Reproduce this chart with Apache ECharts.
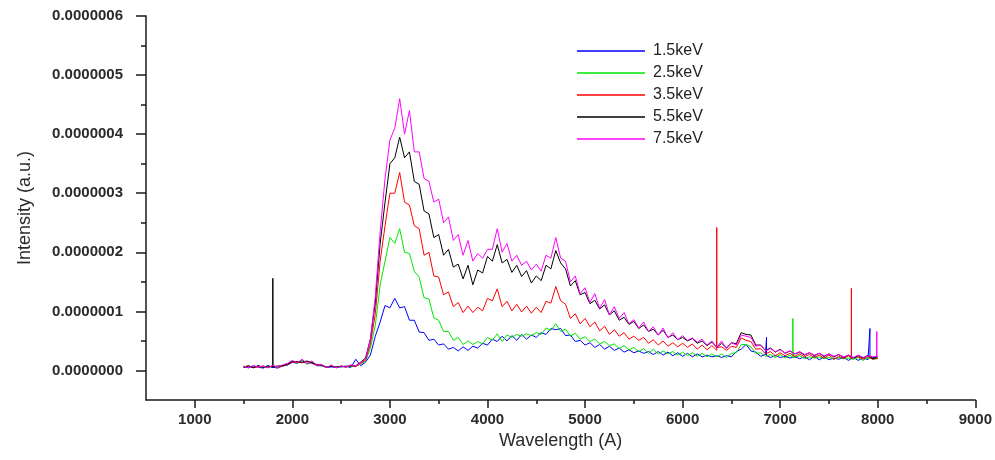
<!DOCTYPE html>
<html><head><meta charset="utf-8">
<script src="https://cdn.jsdelivr.net/npm/echarts@6/dist/echarts.min.js"></script>
<style>html,body{margin:0;padding:0;background:#fff}#c{width:995px;height:460px}</style>
</head><body><div id="c"></div><script>
// Wavelength grid (Å)
const wavelength = [
 1500,1550,1600,1650,1700,1750,1800,1850,1900,1950,
 2000,2050,2100,2150,2200,2250,2300,2350,2400,2450,
 2500,2550,2600,2650,2700,2750,2800,2850,2900,2950,
 3000,3050,3100,3150,3200,3250,3300,3350,3400,3450,
 3500,3550,3600,3650,3700,3750,3800,3850,3900,3950,
 4000,4050,4100,4150,4200,4250,4300,4350,4400,4450,
 4500,4550,4600,4650,4700,4750,4800,4850,4900,4950,
 5000,5050,5100,5150,5200,5250,5300,5350,5400,5450,
 5500,5550,5600,5650,5700,5750,5800,5850,5900,5950,
 6000,6050,6100,6150,6200,6250,6300,6350,6400,6450,
 6500,6550,6600,6650,6700,6750,6800,6850,6900,6950,
 7000,7050,7100,7150,7200,7250,7300,7350,7400,7450,
 7500,7550,7600,7650,7700,7750,7800,7850,7900,7950,
 8000
];
// Intensities in units of 1e-8 a.u.
const kev15 = [
 0.6,0.45,0.75,0.55,0.4,0.75,0.55,0.4,0.75,0.9,
 1.4,1.2,1.7,1.1,1.4,0.8,0.8,0.5,0.6,0.5,
 0.6,0.7,0.5,1.9,0.8,1.4,2.6,5.8,8.2,11,
 10.6,12.2,10.6,10.8,8.5,8.5,6.5,6.4,5.1,5.3,
 4.3,4.5,3.6,3.9,3.3,4.0,3.4,4.1,3.8,4.6,
 4.3,5.3,4.9,5.8,5.0,5.9,5.1,6.1,5.3,6.0,
 5.6,6.4,6.1,7.1,6.9,7.1,5.9,6.0,4.9,5.1,
 4.3,4.7,3.9,4.4,3.6,4.1,3.4,3.8,3.1,3.5,
 3.0,3.3,2.9,3.2,2.7,3.2,2.6,3.1,2.5,3.0,
 2.4,2.9,2.3,2.8,2.3,2.6,2.3,2.5,2.2,2.5,
 2.3,3.2,3.6,4.4,3.3,3.1,2.4,2.7,2.2,2.5,
 2.2,2.4,2.1,2.3,2.0,2.3,1.8,2.4,1.8,2.3,
 1.8,2.1,1.9,2.2,1.7,2.2,1.7,2.2,1.8,2.2,
 2.0
];
const kev25 = [
 0.55,0.75,0.45,0.75,0.55,0.45,0.75,0.5,0.85,1.0,
 1.6,1.2,1.8,1.1,1.5,0.9,0.8,0.5,0.8,0.45,
 0.65,0.6,0.7,0.7,1.1,1.5,3.8,7.6,14.5,18.5,
 22.5,21.5,24,20,19.8,16.8,15.8,12.3,12.1,8.9,
 8.5,6.6,6.6,5.1,5.6,4.4,5.0,4.4,4.9,4.5,
 5.6,5.1,6.2,4.9,6.0,5.6,6.1,5.8,6.2,5.9,
 6.4,6.1,7.2,6.8,7.9,6.6,7.0,5.8,6.3,5.3,
 5.7,4.9,5.3,4.5,4.9,4.2,4.5,3.7,4.2,3.5,
 3.9,3.2,3.7,2.9,3.6,2.8,3.3,2.8,3.2,2.6,
 3.1,2.5,3.0,2.4,2.9,2.3,2.8,2.3,2.8,2.2,
 2.9,3.0,4.4,4.4,4.0,2.9,3.0,2.4,2.7,2.2,
 2.7,2.1,2.6,2.0,2.5,2.0,2.3,2.1,2.3,2.0,
 2.2,1.9,2.2,2.0,2.1,1.9,2.2,1.7,2.2,1.9,
 2.0
];
const kev35 = [
 0.55,0.75,0.5,0.6,0.75,0.5,0.85,0.55,0.75,1.0,
 1.4,1.4,1.3,1.5,1.2,0.9,0.9,0.5,0.8,0.5,
 0.75,0.55,0.85,0.65,1.2,1.7,4.5,9.6,18.5,24.5,
 30,30,33.5,28.5,28,24.5,24,19.5,20,16,
 15.8,12.8,13.3,10.8,11.5,9.8,10.9,9.8,10.7,10.1,
 12.2,11.8,13.8,10.8,11.7,10.1,11.2,9.9,10.9,9.7,
 10.7,9.8,11.7,11.4,14.2,11.8,11.2,8.8,9.6,7.9,
 8.8,7.4,8.2,6.7,7.5,6.1,6.9,5.8,6.4,5.3,
 5.8,5.1,5.6,4.6,5.2,4.3,5.0,4.1,4.7,4.0,
 4.6,3.9,4.5,3.6,4.3,3.5,4.2,3.4,4.0,3.4,
 4.1,3.9,5.5,5.1,4.9,3.6,3.7,2.8,3.2,2.5,
 3.0,2.5,2.9,2.4,2.8,2.3,2.7,2.2,2.6,2.1,
 2.6,1.9,2.4,2.0,2.5,1.8,2.3,1.9,2.4,1.9,
 2.1
];
const kev55 = [
 0.55,0.8,0.45,0.85,0.5,0.8,0.5,0.75,0.8,1.1,
 1.5,1.5,1.4,1.6,1.3,1.0,0.9,0.6,0.7,0.6,
 0.7,0.7,0.8,0.8,1.4,2.1,5.3,11.5,21.5,28.5,
 35,36,39.5,36,37,32,31.5,27,26.5,22.5,
 23,19.5,20.5,17.5,18,15.5,17.8,14.5,17,16.5,
 19.3,18.5,21.3,18.2,18.8,16.6,17.8,15.9,16.9,14.8,
 16,15.2,17.8,17.2,20.3,18.2,17.2,14.3,15.2,12.8,
 13.2,11.3,11.9,10.4,11.1,9.4,10.1,8.5,9.0,7.8,
 8.3,7.1,7.7,6.6,7.0,6.0,6.8,5.6,6.0,5.2,
 5.6,5.0,5.4,4.6,5.0,4.2,4.8,3.9,4.6,3.8,
 4.7,4.5,6.4,6.1,6.0,4.3,4.3,3.4,3.8,3.1,
 3.6,2.9,3.3,2.8,3.1,2.6,3.0,2.5,2.9,2.4,
 2.8,2.3,2.7,2.2,2.6,2.1,2.5,2.1,2.6,2.0,
 2.3
];
const kev75 = [
 0.75,0.45,0.85,0.55,0.75,0.45,0.85,0.55,0.95,1.2,
 1.7,1.3,1.9,1.2,1.6,0.9,1.0,0.5,0.9,0.45,
 0.75,0.55,0.95,0.75,1.3,1.9,5.3,12.5,23.5,32.5,
 39,41,46,40,44,37,37,32.5,32,28.5,
 29,25,26,22,23,19.5,22,18.5,19.8,19,
 20.5,20.5,24,20,21.5,18.5,19.5,17.8,18.5,17,
 18,16.8,19.5,19,22.5,19,18.5,15,16,13,
 14,11.5,13,10.5,12,9.4,10.8,8.8,9.8,7.9,
 8.6,7.2,8.2,6.6,7.4,6.0,7.2,5.5,6.4,5.2,
 5.9,5.1,5.5,4.8,5.3,4.3,5.0,3.9,5.0,3.7,
 4.7,4.3,6.0,5.8,5.6,4.1,4.3,3.3,3.7,3.2,
 3.5,3.0,3.3,2.8,3.2,2.7,3.0,2.6,2.9,2.5,
 2.8,2.4,2.7,2.3,2.6,2.2,2.6,2.2,2.5,2.3,
 2.4
];
// Narrow spikes: [wavelength, base, peak] (units 1e-8)
const kev15Spikes = [[6860, 2.5, 5.6], [7920, 2.0, 7.1]];
const kev25Spikes = [[7130, 2.2, 8.8]];
const kev35Spikes = [[6350, 3.9, 24.2], [7730, 2.1, 13.9]];
const kev55Spikes = [[1800, 0.6, 15.6]];
const kev75Spikes = [[7990, 2.4, 6.6]];

const seriesNames = ['1.5keV', '2.5keV', '3.5keV', '5.5keV', '7.5keV'];
const seriesColors = ['#0000ff', '#00e800', '#ff0000', '#000000', '#ff00ff'];
const xTickValues = [1000, 2000, 3000, 4000, 5000, 6000, 7000, 8000, 9000];
const xMinorTickValues = [1500, 2500, 3500, 4500, 5500, 6500, 7500, 8500];
const yTickValues = [0, 10, 20, 30, 40, 50, 60];
const yMinorTickValues = [5, 15, 25, 35, 45, 55];
const yUnit = 1e-8;

function build(vals, spikes) {
  const out = [];
  let s = 0;
  for (let i = 0; i < wavelength.length; i++) {
    out.push([wavelength[i], vals[i]]);
    while (s < spikes.length && spikes[s][0] >= wavelength[i] &&
           (i + 1 >= wavelength.length || spikes[s][0] < wavelength[i + 1])) {
      const sp = spikes[s];
      out.push([sp[0], sp[1]], [sp[0], sp[2]], [sp[0], sp[1]]);
      s++;
    }
  }
  return out;
}
const allVals = [kev15, kev25, kev35, kev55, kev75];
const allSpikes = [kev15Spikes, kev25Spikes, kev35Spikes, kev55Spikes, kev75Spikes];

const font = 'Liberation Sans, Arial, sans-serif';
const axisColor = '#1a1a1a';
const chart = echarts.init(document.getElementById('c'), null, {renderer: 'canvas'});
chart.setOption({
  animation: false,
  backgroundColor: '#ffffff',
  grid: {left: 146, right: 19, top: 16, bottom: 60, containLabel: false},
  legend: {
    orient: 'vertical', left: 572, top: 38,
    icon: 'rect', itemWidth: 68, itemHeight: 1.5, itemGap: 6,
    textStyle: {fontFamily: font, fontSize: 16, color: '#222', padding: [0, 0, 0, 3]},
    data: seriesNames
  },
  xAxis: [{
    type: 'value', min: 500, max: 9000, position: 'bottom',
    axisLine: {show: true, onZero: false, lineStyle: {color: axisColor, width: 1.5}},
    axisTick: {show: true, customValues: xTickValues, length: 8, lineStyle: {color: axisColor, width: 1.5}},
    axisLabel: {customValues: xTickValues, fontFamily: font, fontSize: 15, fontWeight: 'bold', color: '#2a2a2a', margin: 12,
      formatter: v => String(v)},
    splitLine: {show: false},
    name: 'Wavelength (A)', nameLocation: 'middle', nameGap: 28,
    nameTextStyle: {fontFamily: font, fontSize: 18, color: '#2a2a2a'}
  }, {
    type: 'value', min: 500, max: 9000, position: 'bottom',
    axisLine: {show: false, onZero: false},
    axisTick: {show: true, customValues: xMinorTickValues, length: 4, lineStyle: {color: axisColor, width: 1.5}},
    axisLabel: {show: false},
    splitLine: {show: false}
  }],
  yAxis: [{
    type: 'value', min: -5, max: 60, position: 'left',
    axisLine: {show: true, onZero: false, lineStyle: {color: axisColor, width: 1.5}},
    axisTick: {show: true, customValues: yTickValues, length: 10, lineStyle: {color: axisColor, width: 1.5}},
    axisLabel: {customValues: yTickValues, fontFamily: font, fontSize: 15, fontWeight: 'bold', color: '#2a2a2a', margin: 23,
      formatter: v => (v * yUnit).toFixed(7)},
    splitLine: {show: false},
    name: 'Intensity (a.u.)', nameLocation: 'middle', nameGap: 112,
    nameTextStyle: {fontFamily: font, fontSize: 18, color: '#2a2a2a'}
  }, {
    type: 'value', min: -5, max: 60, position: 'left',
    axisLine: {show: false, onZero: false},
    axisTick: {show: true, customValues: yMinorTickValues, length: 5, lineStyle: {color: axisColor, width: 1.5}},
    axisLabel: {show: false},
    splitLine: {show: false}
  }],
  series: seriesNames.map((name, k) => ({
    name: name, type: 'line', xAxisIndex: 0, yAxisIndex: 0,
    symbol: 'none', showSymbol: false,
    data: build(allVals[k], allSpikes[k]),
    lineStyle: {color: seriesColors[k], width: 1},
    itemStyle: {color: seriesColors[k]},
    emphasis: {disabled: true}
  }))
});
</script></body></html>
